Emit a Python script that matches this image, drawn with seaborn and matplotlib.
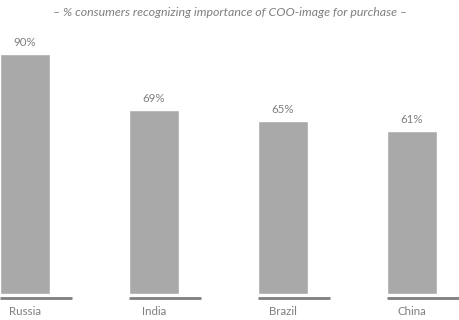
import pandas as pd
import matplotlib
matplotlib.use('Agg')
import matplotlib.pyplot as plt
import seaborn as sns

countries = ['Russia', 'India', 'Brazil', 'China']
shares = [90, 69, 65, 61]
title = '– % consumers recognizing importance of COO-image for purchase –'

df = pd.DataFrame({'country': countries, 'share': shares})

sns.set_style('white')
plt.rcParams['font.family'] = ['Lato', 'DejaVu Sans']

bar_w = 50 / 129
fig = plt.figure(figsize=(4.6, 3.2), dpi=100)
ax = fig.add_axes([0, 20 / 320, 1, 270 / 320])

sns.barplot(data=df, x='country', y='share', color='#a9a9a9', width=bar_w,
            saturation=1, ax=ax)

ax.set_xlim(-bar_w / 2, -bar_w / 2 + 460 / 129)
ax.set_ylim(-2.25, 99)

# grey baseline segment under each bar
for i in range(len(countries)):
    left = i - bar_w / 2
    ax.plot([left, left + 72 / 129], [-1.5, -1.5], color='#7f7f7f', lw=2,
            solid_capstyle='butt')

for i, v in enumerate(shares):
    ax.text(i, v + 2.2, f'{v}%', ha='center', va='bottom', fontsize=8.3,
            color='#7f7f7f')

ax.set_xticks(range(len(countries)))
ax.set_xticklabels(countries, fontsize=8.3, color='#7f7f7f')
ax.tick_params(axis='x', length=0, pad=4)
ax.set_yticks([])
ax.set_xlabel('')
ax.set_ylabel('')
sns.despine(ax=ax, left=True, bottom=True)

fig.text(0.5, 1 - 12 / 320, title, ha='center', va='center', fontsize=8.9,
         style='italic', color='#7f7f7f')

fig.savefig('out.png', dpi=100)
